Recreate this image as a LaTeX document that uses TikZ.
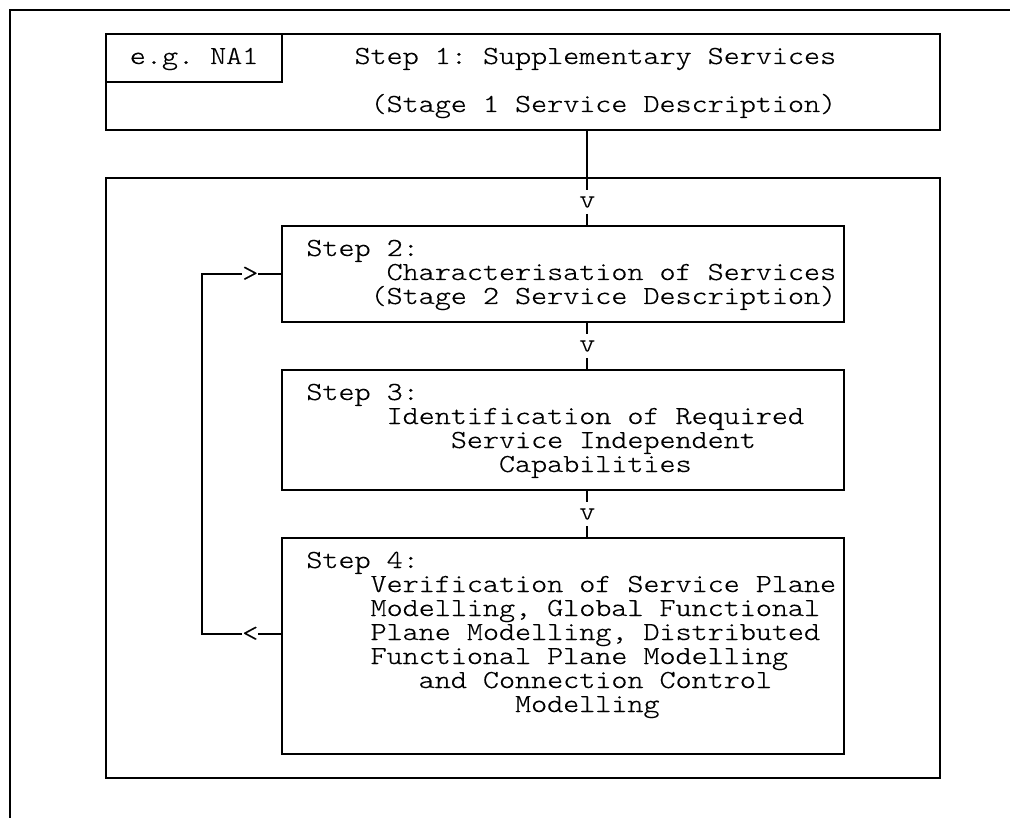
\documentclass[tikz,border=0pt]{standalone}
\usepackage{fontspec}
\newfontfamily\asciifont[FakeStretch=1.176, FakeBold=0.4]{lmmonolt10-regular.otf}
\usetikzlibrary{fit}
\tikzset{
  box/.style={draw, inner sep=0pt, outer sep=0pt},
  txt/.style={anchor=base west, inner sep=0pt, outer sep=0pt},
  tip/.style={inner sep=0pt, outer sep=0pt, minimum width=16.05pt, minimum height=24pt},
}
\begin{document}
\begin{tikzpicture}[x=16.05pt, y=-24pt, line width=2pt,
  font={\asciifont\fontsize{26pt}{24pt}\selectfont\frenchspacing}]
  % one grid unit = one character cell (column, row)
  \useasboundingbox (-9.5pt,10pt) rectangle (1000.5pt,-808pt);
  \fill[white] (-9.5pt,10pt) rectangle (1000.5pt,-808pt);

  % open outer frame
  \draw (62.34,0) -- (0,0) -- (0,33.67);

  % step 1 box with its tag cell
  \node[box, fit={(6,1)(58,5)}] (s1) {};
  \node[box, fit={(6,1)(17,3)}] (eg) {};
  \node[txt] (egt) at (7.5,2.25) {e.g. NA1};
  \node[txt] (s1a) at (21.5,2.25) {Step 1: Supplementary Services};
  \node[txt] (s1b) at (22.5,4.25) {(Stage 1 Service Description)};

  % inner frame
  \node[box, fit={(6,7)(58,32)}] (frame) {};

  % step 2
  \node[box, fit={(17,9)(52,13)}] (s2) {};
  \node[txt] (s2a) at (18.5,10.25) {Step 2:};
  \node[txt] (s2b) at (23.5,11.25) {Characterisation of Services};
  \node[txt] (s2c) at (22.5,12.25) {(Stage 2 Service Description)};

  % step 3
  \node[box, fit={(17,15)(52,20)}] (s3) {};
  \node[txt] (s3a) at (18.5,16.25) {Step 3:};
  \node[txt] (s3b) at (23.5,17.25) {Identification of Required};
  \node[txt] (s3c) at (27.5,18.25) {Service Independent};
  \node[txt] (s3d) at (30.5,19.25) {Capabilities};

  % step 4
  \node[box, fit={(17,22)(52,31)}] (s4) {};
  \node[txt] (s4a) at (18.5,23.25) {Step 4:};
  \node[txt] (s4b) at (22.5,24.25) {Verification of Service Plane};
  \node[txt] (s4c) at (22.5,25.25) {Modelling, Global Functional};
  \node[txt] (s4d) at (22.5,26.25) {Plane Modelling, Distributed};
  \node[txt] (s4e) at (22.5,27.25) {Functional Plane Modelling};
  \node[txt] (s4f) at (25.5,28.25) {and Connection Control};
  \node[txt] (s4g) at (31.5,29.25) {Modelling};

  % downward flow
  \node[tip] (v1) at (36,8) {v};
  \node[tip] (v2) at (36,14) {v};
  \node[tip] (v3) at (36,21) {v};
  \draw (v1.north |- s1.south) -- (v1.north);
  \draw (v1.south) -- (v1.south |- s2.north);
  \draw (v2.north |- s2.south) -- (v2.north);
  \draw (v2.south) -- (v2.south |- s3.north);
  \draw (v3.north |- s3.south) -- (v3.north);
  \draw (v3.south) -- (v3.south |- s4.north);

  % feedback loop from step 4 back to step 2
  \node[tip] (lt) at (15,26) {<};
  \node[tip] (gt) at (15,11) {>};
  \coordinate (lb) at (12,26);
  \coordinate (lu) at (12,11);
  \draw (s4.west |- lt) -- (lt.east);
  \draw (lt.west) -- (lb) -- (lu) -- (gt.west);
  \draw (gt.east) -- (s2.west);
\end{tikzpicture}
\end{document}
